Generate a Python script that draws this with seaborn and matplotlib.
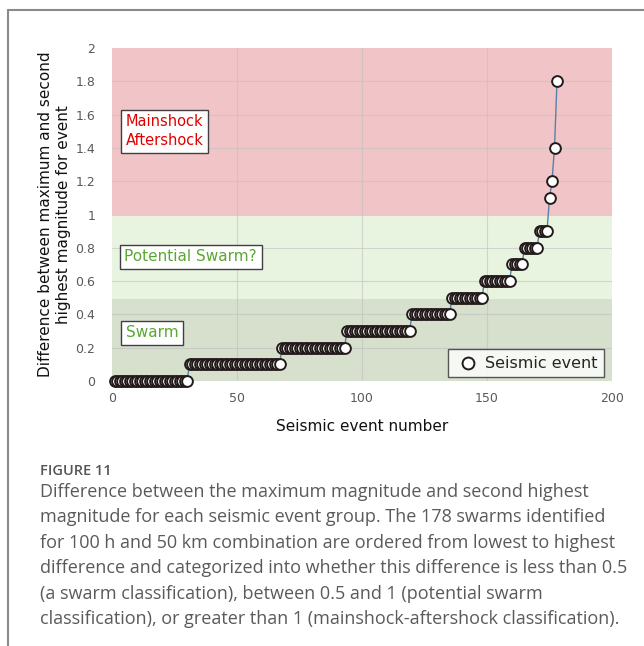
import numpy as np
import pandas as pd
import matplotlib
matplotlib.use("Agg")
import matplotlib.pyplot as plt
from matplotlib.lines import Line2D
import seaborn as sns

# Data: distinct difference levels and number of events at each level (sorted)
levels = [0.0, 0.1, 0.2, 0.3, 0.4, 0.5, 0.6, 0.7, 0.8, 0.9, 1.1, 1.2, 1.4, 1.8]
counts = [30, 37, 26, 26, 16, 13, 11, 5, 6, 4, 1, 1, 1, 1]
x_ticks = [0, 50, 100, 150, 200]
y_ticks = [0, 0.2, 0.4, 0.6, 0.8, 1, 1.2, 1.4, 1.6, 1.8, 2]
y_ticklabels = ["0", "0.2", "0.4", "0.6", "0.8", "1", "1.2", "1.4", "1.6", "1.8", "2"]
bands = [(0.0, 0.49, "#d6e0cd"), (0.49, 1.0, "#e9f4e0"), (1.0, 2.0, "#f1c5c7")]
labels = ["Mainshock\nAftershock", "Potential Swarm?", "Swarm"]

diff = np.repeat(levels, counts)
df = pd.DataFrame({"event": np.arange(1, len(diff) + 1), "diff": diff})

sns.set_theme(style="white")
plt.rcParams['font.family'] = ['DejaVu Sans']

W, H = 644, 646
fig = plt.figure(figsize=(W / 100, H / 100), dpi=100)
ax = fig.add_axes([112 / W, 1 - 381 / H, 500 / W, 333 / H])

for lo, hi, c in bands:
    ax.axhspan(lo, hi, xmin=0, xmax=1, color=c, zorder=0, lw=0)

for yv in y_ticks[1:-1]:
    ax.axhline(yv, color="#c0c0c0", lw=0.8, alpha=0.6, zorder=1)
for xv in x_ticks[1:-1]:
    ax.axvline(xv, color="#c0c0c0", lw=0.8, alpha=0.6, zorder=1)

sns.lineplot(data=df, x="event", y="diff", ax=ax, color="#5a80a8", lw=1.0,
             zorder=2, legend=False)
sns.scatterplot(data=df, x="event", y="diff", ax=ax, marker="o", s=60,
                facecolor="white", edgecolor="#231a1a", linewidth=1.4,
                zorder=3, clip_on=False, label="Seismic event")

ax.set_xlim(0, 200)
ax.set_ylim(0, 2)
ax.set_xticks(x_ticks)
ax.set_yticks(y_ticks)
ax.set_yticklabels(y_ticklabels)
for s in ax.spines.values():
    s.set_visible(False)
ax.tick_params(axis="both", length=0, labelsize=9, labelcolor="#595959")
ax.tick_params(axis="y", pad=12)
ax.tick_params(axis="x", pad=8)

ax.set_xlabel("Seismic event number", fontsize=11, color="#111111", labelpad=10)
ax.set_ylabel("Difference between maximum and second\nhighest magnitude for event",
              fontsize=11, color="#111111", labelpad=3, linespacing=1.3)

box = dict(boxstyle="square,pad=0.3", facecolor="white", edgecolor="#404040", lw=1.0)
ax.text(5.5, 1.5, labels[0], color="#e00000", fontsize=10.5, va="center",
        ha="left", bbox=box, linespacing=1.35, zorder=5)
ax.text(5.0, 0.745, labels[1], color="#5aa832", fontsize=11, va="center",
        ha="left", bbox=box, zorder=5)
ax.text(5.5, 0.29, labels[2], color="#5aa832", fontsize=11, va="center",
        ha="left", bbox=box, zorder=5)

leg = ax.legend(loc="lower right", bbox_to_anchor=(0.984, 0.012), frameon=True,
                fancybox=False, edgecolor="#303030", fontsize=11.5,
                handletextpad=0.3, borderpad=0.4, markerscale=1.1,
                borderaxespad=0, handlelength=1.6)
leg.get_frame().set_linewidth(1.0)
leg.set_zorder(6)

# figure frame lines
fig.add_artist(Line2D([8 / W, 1], [1 - 10 / H, 1 - 10 / H], color="#8a8a8a", lw=1.5))
fig.add_artist(Line2D([8 / W, 8 / W], [0, 1 - 10 / H], color="#8a8a8a", lw=1.5))

fig.text(40 / W, 1 - 475 / H, "FIGURE 11", fontsize=10.5, color="#555555",
         family="Open Sans", fontweight="semibold", va="baseline")
caption = ("Difference between the maximum magnitude and second highest\n"
           "magnitude for each seismic event group. The 178 swarms identified\n"
           "for 100 h and 50 km combination are ordered from lowest to highest\n"
           "difference and categorized into whether this difference is less than 0.5\n"
           "(a swarm classification), between 0.5 and 1 (potential swarm\n"
           "classification), or greater than 1 (mainshock-aftershock classification).")
fig.text(40 / W, 1 - 483 / H, caption, fontsize=13.0, color="#5a5a5a",
         family="Open Sans", va="top", linespacing=1.53)

fig.savefig("out.png", dpi=100, facecolor="white")
